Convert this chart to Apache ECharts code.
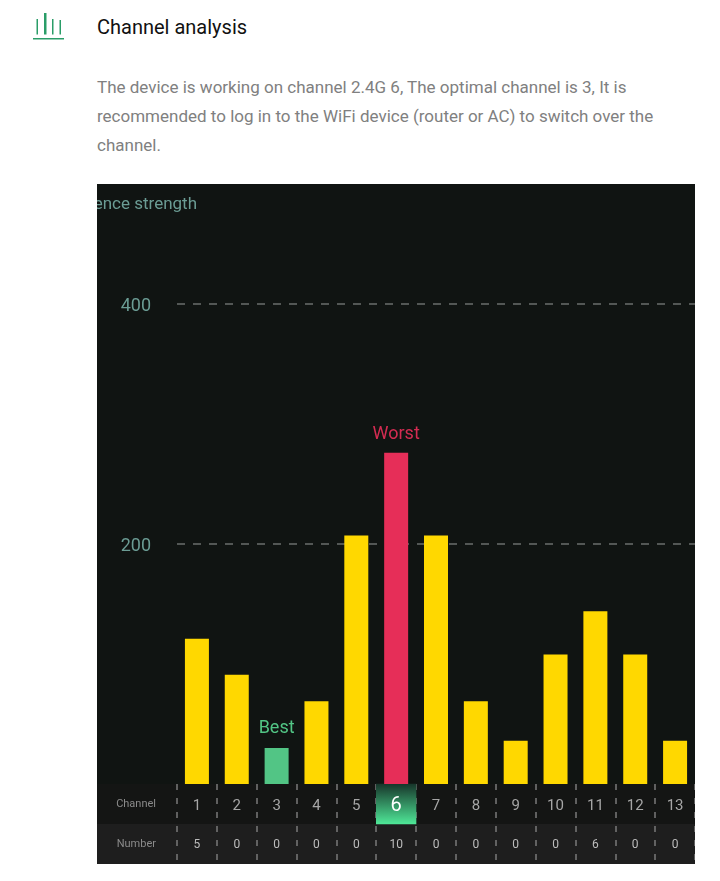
<!DOCTYPE html>
<html>
<head>
<meta charset="utf-8">
<script src="https://cdn.jsdelivr.net/npm/echarts@6/dist/echarts.min.js"></script>
<style>
  html, body { margin: 0; padding: 0; background: #fff; font-family: Roboto, sans-serif; }
  #icon { position: absolute; left: 33px; top: 12px; }
  #title { position: absolute; left: 97px; top: 14px; font-size: 20px; line-height: 26px; color: #111; }
  #desc { position: absolute; left: 97px; top: 73px; width: 580px; font-size: 17px; line-height: 29px; color: #808080; }
  #chart { position: absolute; left: 97px; top: 184px; width: 598px; height: 680px; }
</style>
</head>
<body>
<svg id="icon" width="32" height="30">
  <g fill="#2a9d68">
    <rect x="3.5" y="7" width="1.5" height="15.5"/>
    <rect x="11" y="1" width="2.5" height="21.5"/>
    <rect x="19" y="7" width="1.5" height="15.5"/>
    <rect x="26.5" y="8" width="1.5" height="14.5"/>
    <rect x="0" y="26" width="31" height="1.5"/>
  </g>
</svg>
<div id="title">Channel analysis</div>
<div id="desc">The device is working on channel 2.4G 6, The optimal channel is 3, It is recommended to log in to the WiFi device (router or AC) to switch over the channel.</div>
<div id="chart"></div>
<script>
const channels = ['1', '2', '3', '4', '5', '6', '7', '8', '9', '10', '11', '12', '13'];
const strength = [121, 91, 30, 69, 207, 276, 207, 69, 36, 108, 144, 108, 36];
const numbers = [5, 0, 0, 0, 0, 10, 0, 0, 0, 0, 6, 0, 0];
const rows = ['Number', 'Channel'];
const bestIndex = 2;
const worstIndex = 5;

const myChart = echarts.init(document.getElementById('chart'));

const barData = strength.map((v, i) => {
    if (i === bestIndex) {
        return {value: v, itemStyle: {color: '#52c585'},
            label: {show: true, position: 'top', distance: 11, formatter: 'Best', color: '#52c585', fontSize: 18}};
    }
    if (i === worstIndex) {
        return {value: v, itemStyle: {color: '#e62e58'},
            label: {show: true, position: 'top', distance: 9, formatter: 'Worst', color: '#d42c52', fontSize: 18}};
    }
    return v;
});

// table under the bars, one heatmap cell per channel / number
const cells = [];
channels.forEach((c, i) => {
    const active = i === worstIndex;
    cells.push({
        value: [i, 1, c],
        itemStyle: {
            color: active
                ? new echarts.graphic.LinearGradient(0, 0, 0, 1, [
                    {offset: 0, color: '#17352a'},
                    {offset: 1, color: '#4fe898'}
                ])
                : 'transparent'
        },
        label: {color: active ? '#fff' : '#a6a6a6', fontSize: active ? 20 : 15, offset: [0, 2]}
    });
    cells.push({
        value: [i, 0, numbers[i]],
        itemStyle: {color: 'transparent'},
        label: {color: '#bdbdbd', fontSize: 12, offset: [0, 1]}
    });
});

const option = {
    backgroundColor: '#101412',
    textStyle: {fontFamily: 'Roboto'},
    animation: false,
    graphic: [
        {
            type: 'rect',
            z: -1,
            shape: {x: 0, y: 600, width: 598, height: 40},
            style: {fill: '#141514'}
        },
        {
            type: 'rect',
            z: -1,
            shape: {x: 0, y: 640, width: 598, height: 40},
            style: {fill: '#1e1e1e'}
        }
    ],
    grid: [
        {left: 80, right: 0, top: 120, height: 480, outerBoundsMode: 'none'},
        {left: 80, right: 0, top: 600, height: 80, outerBoundsMode: 'none'}
    ],
    xAxis: [
        {
            gridIndex: 0, type: 'category', data: channels,
            axisLine: {show: false}, axisTick: {show: false}, axisLabel: {show: false}
        },
        {
            gridIndex: 1, type: 'category', data: channels,
            axisLine: {show: false}, axisTick: {show: false}, axisLabel: {show: false},
            splitLine: {show: true, interval: 0, lineStyle: {color: '#7a7a7a', width: 1.5, type: [6, 8]}}
        }
    ],
    yAxis: [
        {
            gridIndex: 0, type: 'value', min: 0, max: 400, interval: 200,
            name: 'Interference strength',
            nameLocation: 'end',
            nameGap: 91,
            nameTextStyle: {color: '#6b9c94', fontSize: 17, align: 'right', padding: [0, -20, 0, 0]},
            axisLine: {show: false}, axisTick: {show: false},
            axisLabel: {
                margin: 26,
                formatter: v => (v === 0 ? '' : '{t|' + v + '}'),
                rich: {t: {color: '#6b9c94', fontSize: 18, padding: [5, 0, 0, 0]}}
            },
            splitLine: {showMinLine: false, lineStyle: {color: '#6a6e6c', width: 1.5, type: [8, 8]}}
        },
        {
            gridIndex: 1, type: 'category', data: rows,
            axisLine: {show: false}, axisTick: {show: false},
            axisLabel: {margin: 21, color: '#8a8a8a', fontSize: 11}
        }
    ],
    series: [
        {
            type: 'bar', xAxisIndex: 0, yAxisIndex: 0,
            barWidth: 24,
            itemStyle: {color: '#ffd800'},
            data: barData
        },
        {
            type: 'heatmap', xAxisIndex: 1, yAxisIndex: 1,
            label: {show: true, formatter: p => p.value[2]},
            emphasis: {disabled: true},
            data: cells
        }
    ]
};
option && myChart.setOption(option);
</script>
</body>
</html>
